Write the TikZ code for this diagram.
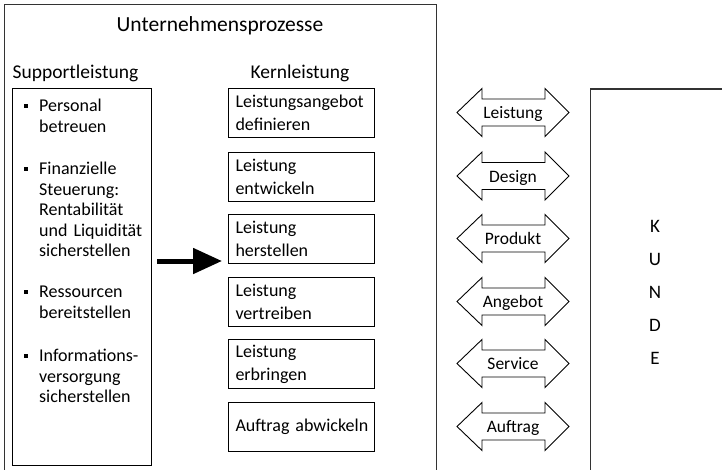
\documentclass[tikz,border=0pt]{standalone}
\usepackage{fontspec}
\setmainfont{Carlito}[WordSpace=0.75]
\usetikzlibrary{arrows.meta}

\tikzset{
  frame/.style={draw=black!80, line width=1.3pt},
  kbox/.style={draw=black, line width=1pt, anchor=north west,
    minimum width=146pt, minimum height=49pt, text width=132pt,
    inner xsep=7pt, align=left,
    font=\fontsize{18}{23}\selectfont},
  sitem/.style={anchor=north west, inner sep=0pt, text width=110pt, align=left,
    font=\fontsize{18}{20.5}\selectfont},
  darr/.style={draw=black, line width=0.9pt, line join=miter},
  alabel/.style={anchor=base, inner sep=0pt, font=\fontsize{17.5}{20}\selectfont},
  head/.style={anchor=base, inner sep=0pt, font=\fontsize{19.5}{22}\selectfont},
}
\newcommand{\bul}{\llap{\rule[0.22em]{4pt}{4pt}\hspace{11pt}}}

\begin{document}
\begin{tikzpicture}[x=1pt, y=-1pt]
\useasboundingbox (0,0) rectangle (722,469);
\clip (0,0) rectangle (722,469);
\fill[white] (0,0) rectangle (722,469);

% enterprise frame and customer frame (both run past the lower edge)
\draw[frame] (4.5,480) -- (4.5,4.5) -- (436.5,4.5) -- (436.5,480);
\draw[frame] (590.5,480) -- (590.5,89) -- (730,89);

% headings
\node[anchor=base, inner sep=0pt, font=\fontsize{21.5}{24}\selectfont] (title) at (220,31) {Unternehmensprozesse};
\node[head] (support) at (75.5,78) {Supportleistung};
\node[head] (kern) at (300,78) {Kernleistung};

% support activities
\node[draw=black, line width=1pt, anchor=north west, minimum width=139pt, minimum height=377pt, inner sep=0pt] (sbox) at (12,88) {};
\node[sitem] (s1) at (39,99) {\bul Personal\\betreuen};
\node[sitem] (s2) at (39,162) {\bul Finanzielle\\Steuerung:\\Rentabilität\\und Liquidität\\sicherstellen};
\node[sitem] (s3) at (39,286) {\bul Ressourcen\\bereitstellen};
\node[sitem] (s4) at (39,349) {\bul Informations-\\versorgung\\sicherstellen};

% core activities and exchanges with the customer
\foreach \y/\t/\a [count=\i] in {
  88/{Leistungsangebot\\definieren}/Leistung,
  151.5/{Leistung\\entwickeln}/Design,
  214/{Leistung\\herstellen}/Produkt,
  277/{Leistung\\vertreiben}/Angebot,
  339/{Leistung\\erbringen}/Service,
  402/{\mbox{Auftrag abwickeln}}/Auftrag} {
  \node[kbox] (k\i) at (228,\y) {\t};
  \coordinate (a\i) at (513,\y+24.5);
  \draw[darr, shift={(a\i)}]
    (-56,0) -- (-31,-24) -- (-31,-13.5) -- (32,-13.5) -- (32,-24) -- (56,0)
    -- (32,24) -- (32,13.5) -- (-31,13.5) -- (-31,24) -- cycle;
  \node[alabel] (l\i) at ([yshift=-6pt]a\i) {\a};
}

% support feeds the core
\coordinate (sa) at (157,261);
\coordinate (sb) at (222,261);
\draw[line width=5pt, -{Triangle[length=29pt, width=25pt]}] (sa) -- (sb);

% customer
\node[align=center, inner sep=0pt, font=\fontsize{19}{33}\selectfont, anchor=north] (kunde) at (655,220)
  {K\\U\\N\\D\\E};
\end{tikzpicture}
\end{document}
